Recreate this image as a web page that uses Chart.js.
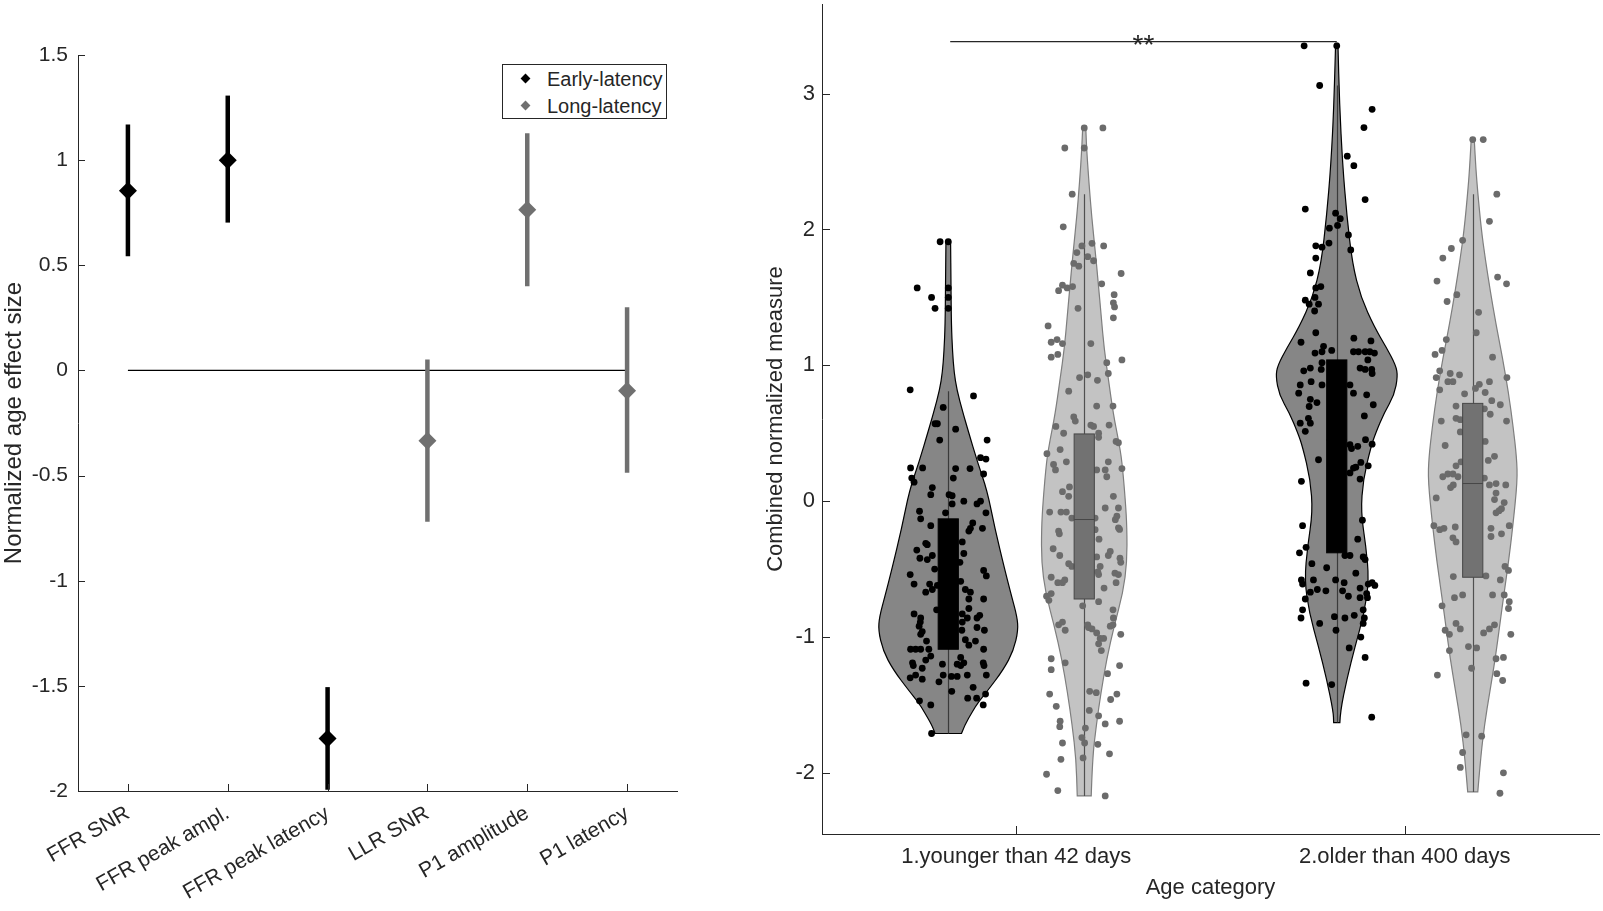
<!DOCTYPE html>
<html>
<head>
<meta charset="utf-8">
<script src="https://cdn.jsdelivr.net/npm/chart.js@4.4.1/dist/chart.umd.min.js"></script>
<style>
  body { margin: 0; background: #fff; width: 1603px; height: 911px; overflow: hidden; position: relative; }
  .panel { position: absolute; top: 0; height: 911px; }
  #legend { position: absolute; left: 502px; top: 64px; width: 165px; height: 55px; border: 1px solid #262626; background: #fff;
            font: 20px "Liberation Sans", Arial, sans-serif; color: #262626; box-sizing: border-box; }
  .legend-row { position: absolute; left: 0; width: 100%; height: 26px; line-height: 26px; white-space: nowrap; }
  .legend-mark { position: absolute; left: 19px; top: 9px; width: 7px; height: 7px; transform: rotate(45deg); }
  .legend-text { position: absolute; left: 44px; }
</style>
</head>
<body>
<div class="panel" style="left:0;width:760px"><canvas id="effectChart"></canvas></div>
<div id="legend"></div>
<div class="panel" style="left:760px;width:843px"><canvas id="violinChart"></canvas></div>
<script>
// ---- left panel: age effect per measure ----
const measures = ['FFR SNR', 'FFR peak ampl.', 'FFR peak latency', 'LLR SNR', 'P1 amplitude', 'P1 latency'];
const effectSize = [0.855, 1.0, -1.75, -0.334, 0.764, -0.097];
const ciLow = [0.543, 0.703, -1.994, -0.72, 0.40, -0.486];
const ciHigh = [1.17, 1.307, -1.506, 0.052, 1.128, 0.30];
const latencyOf = [0, 0, 0, 1, 1, 1];
const latencyNames = ['Early-latency', 'Long-latency'];
const yTicksLeft = [-2, -1.5, -1, -0.5, 0, 0.5, 1, 1.5];

// ---- right panel: violins ----
const ageGroups = ['1.younger than 42 days', '2.older than 400 days'];
const yTicksRight = [-2, -1, 0, 1, 2, 3];
const violinX = [0.825, 1.175, 1.825, 2.175];

// outlines as [value, half width]
const dark1Shape = [[-1.71, 0.034], [-1.65, 0.042], [-1.55, 0.062], [-1.48, 0.077], [-1.4, 0.1], [-1.24, 0.142], [-1.1, 0.168],
  [-0.95, 0.18], [-0.85, 0.177], [-0.7, 0.163], [-0.5, 0.145], [-0.2, 0.12], [0.08, 0.1], [0.28, 0.076], [0.53, 0.05],
  [0.65, 0.038], [0.82, 0.022], [0.95, 0.015], [1.1, 0.011], [1.3, 0.008], [1.6, 0.007], [1.91, 0.006]];
const light1Shape = [[-2.17, 0.018], [-1.9, 0.021], [-1.65, 0.031], [-1.41, 0.043], [-1.16, 0.058], [-0.92, 0.077], [-0.67, 0.1],
  [-0.45, 0.11], [-0.2, 0.11], [0.0, 0.106], [0.3, 0.097], [0.45, 0.088], [0.64, 0.075], [0.9, 0.062], [1.13, 0.051],
  [1.35, 0.044], [1.61, 0.036], [1.85, 0.028], [2.1, 0.019], [2.35, 0.012], [2.6, 0.006], [2.75, 0.004]];
const dark2Shape = [[-1.63, 0.008], [-1.55, 0.009], [-1.31, 0.026], [-1.07, 0.047], [-0.82, 0.071], [-0.58, 0.083], [-0.33, 0.075],
  [-0.08, 0.062], [0.16, 0.068], [0.4, 0.088], [0.5, 0.1], [0.65, 0.122], [0.78, 0.148], [0.92, 0.157], [1.0, 0.152],
  [1.13, 0.128], [1.28, 0.097], [1.5, 0.062], [1.75, 0.04], [2.1, 0.026], [2.48, 0.015], [2.93, 0.007], [3.37, 0.003]];
const light2Shape = [[-2.14, 0.013], [-1.9, 0.02], [-1.65, 0.03], [-1.4, 0.044], [-1.16, 0.058], [-0.9, 0.07], [-0.67, 0.081],
  [-0.45, 0.092], [-0.19, 0.103], [0.15, 0.115], [0.32, 0.113], [0.55, 0.104], [0.8, 0.092], [1.05, 0.077], [1.3, 0.06],
  [1.55, 0.045], [1.79, 0.032], [2.0, 0.022], [2.27, 0.013], [2.45, 0.008], [2.66, 0.004]];

const boxQ1 = [-1.09, -0.72, -0.38, -0.56];
const boxQ3 = [-0.13, 0.495, 1.04, 0.72];
const boxMedian = [-0.62, -0.135, 0.45, 0.13];
const whiskerLow = [-1.71, -2.17, -1.63, -2.14];
const whiskerHigh = [0.81, 2.26, 3.06, 2.26];

// individual subjects as [offset from violin centre, value]
const dark1Points = [[-0.021, 1.91], [0, 1.91], [-0.08, 1.57], [0, 1.57], [0, 1.5], [0, 1.42], [-0.043, 1.5], [-0.034, 1.42],
  [-0.098, 0.82], [0.065, 0.775], [-0.013, 0.69], [-0.034, 0.57], [-0.028, 0.57], [0.019, 0.53], [-0.022, 0.45], [0.1, 0.45],
  [0.083, 0.32], [0.097, 0.31], [-0.097, 0.245], [-0.066, 0.245], [0.019, 0.24], [0.056, 0.24], [0.091, 0.2], [-0.094, 0.17],
  [-0.088, 0.14], [0.013, 0.17], [-0.041, 0.1], [-0.045, 0.048], [0.002, 0.048], [0.01, 0.04], [0.083, 0.0], [0.04, 0.0],
  [0.074, -0.02], [0.01, -0.02], [-0.074, -0.074], [0.097, -0.086], [-0.071, -0.13], [-0.007, -0.086], [-0.045, -0.18],
  [0.063, -0.16], [0.088, -0.2], [0.053, -0.22], [0.057, -0.2], [-0.058, -0.31], [-0.054, -0.32], [0.036, -0.3], [-0.081, -0.36],
  [0.04, -0.385], [-0.041, -0.4], [-0.073, -0.42], [-0.054, -0.43], [0.091, -0.51], [0.098, -0.55], [-0.098, -0.54],
  [-0.088, -0.61], [-0.048, -0.61], [-0.028, -0.62], [-0.041, -0.65], [-0.058, -0.67], [0.044, -0.65], [0.057, -0.67],
  [0.053, -0.72], [0.032, -0.59], [0.091, -0.72], [0.053, -0.79], [-0.088, -0.83], [-0.071, -0.86], [-0.072, -0.89],
  [-0.075, -0.92], [-0.067, -0.96], [-0.071, -0.98], [0.036, -0.83], [0.049, -0.86], [0.074, -0.86], [0.081, -0.84],
  [0.036, -0.89], [0.074, -0.93], [0.093, -0.95], [-0.056, -1.03], [0.044, -1.02], [0.053, -1.06], [0.07, -1.03],
  [-0.097, -1.09], [-0.084, -1.09], [-0.071, -1.09], [-0.05, -1.09], [0.091, -1.09], [-0.045, -1.14], [-0.092, -1.19],
  [-0.09, -1.21], [-0.058, -1.17], [-0.067, -1.23], [-0.015, -1.2], [0.032, -1.15], [0.04, -1.19], [0.032, -1.21],
  [0.023, -1.2], [0.09, -1.19], [0.092, -1.21], [0.098, -1.28], [0.049, -1.28], [-0.098, -1.3], [-0.084, -1.28],
  [-0.067, -1.31], [-0.024, -1.33], [-0.013, -1.28], [0.008, -1.29], [0.023, -1.29], [0.064, -1.37], [0.009, -1.4],
  [0.05, -1.45], [0.073, -1.45], [0.096, -1.42], [0.09, -1.5], [-0.074, -1.47], [-0.045, -1.5], [-0.043, -1.71],
  [-0.035, -0.5], [0.03, -0.45], [-0.03, -0.8], [0.035, -0.95]];
const light1Points = [[0, 2.748], [0.048, 2.748], [-0.05, 2.6], [0, 2.6], [-0.031, 2.26], [-0.054, 2.02],
  [-0.006, 1.879], [0.02, 1.898], [0.05, 1.879], [-0.019, 1.83], [0.009, 1.8], [0.024, 1.77], [-0.027, 1.75], [-0.014, 1.73],
  [0.095, 1.676], [0.045, 1.6], [-0.066, 1.55], [-0.056, 1.59], [-0.044, 1.57], [-0.03, 1.58], [0.077, 1.52], [0.075, 1.46],
  [0.078, 1.43], [-0.016, 1.42], [0.075, 1.35], [-0.093, 1.29], [-0.085, 1.17], [-0.07, 1.19], [-0.056, 1.16], [0.017, 1.16],
  [-0.085, 1.06], [-0.068, 1.08], [0.058, 1.02], [0.097, 1.04], [0.062, 0.94], [-0.012, 0.91], [0.009, 0.93], [0.034, 0.89],
  [-0.04, 0.81], [0.032, 0.7], [0.074, 0.7], [-0.027, 0.62], [-0.023, 0.59], [0.017, 0.56], [0.024, 0.55], [-0.073, 0.55],
  [-0.053, 0.5], [0.064, 0.56], [0.082, 0.44], [0.088, 0.43], [-0.096, 0.35], [-0.062, 0.38], [0.037, 0.5], [0.037, 0.47],
  [-0.079, 0.27], [-0.074, 0.23], [-0.046, 0.29], [0.032, 0.23], [0.054, 0.23], [0.062, 0.29], [0.097, 0.24], [0.058, 0.18],
  [-0.056, 0.07], [-0.038, 0.105], [-0.04, 0.036], [0.075, 0.036], [-0.089, -0.08], [-0.06, -0.08], [-0.046, -0.08],
  [-0.032, -0.124], [0.028, -0.124], [0.054, -0.05], [0.088, -0.05], [0.08, -0.136], [0.084, -0.11], [0.088, -0.196],
  [0.091, -0.208], [-0.066, -0.22], [-0.064, -0.24], [0.028, -0.21], [0.038, -0.28], [-0.08, -0.35], [0.067, -0.37],
  [0.062, -0.4], [0.092, -0.42], [0.094, -0.45], [-0.063, -0.4], [-0.04, -0.46], [-0.032, -0.48], [0.032, -0.41],
  [0.041, -0.48], [0.037, -0.54], [0.035, -0.52], [0.079, -0.53], [0.088, -0.54], [0.082, -0.6], [0.051, -0.64],
  [-0.085, -0.56], [-0.068, -0.6], [-0.056, -0.6], [-0.05, -0.58], [-0.097, -0.7], [-0.091, -0.73], [-0.085, -0.68],
  [-0.004, -0.77], [0.037, -0.74], [0.074, -0.8], [0.075, -0.86], [0.067, -0.92], [0.074, -0.91], [0.094, -0.98],
  [-0.066, -0.91], [-0.056, -0.89], [-0.049, -0.95], [0.009, -0.91], [0.011, -0.93], [0.02, -0.94], [0.032, -0.97],
  [0.041, -1.01], [0.05, -1.01], [0.037, -1.05], [0.044, -1.1], [-0.085, -1.16], [-0.085, -1.24], [-0.049, -1.19],
  [0.091, -1.21], [0.06, -1.27], [-0.089, -1.42], [-0.072, -1.51], [0.014, -1.4], [0.031, -1.41], [0.084, -1.42],
  [0.068, -1.46], [0.013, -1.54], [0.037, -1.58], [-0.062, -1.62], [-0.063, -1.66], [0.054, -1.64], [0.091, -1.62],
  [0.003, -1.67], [-0.006, -1.74], [-0.056, -1.78], [0.001, -1.78], [0.035, -1.79], [0.065, -1.86], [-0.003, -1.89],
  [-0.06, -1.9], [-0.097, -2.01], [-0.068, -2.13], [0.054, -2.17]];
const dark2Points = [[-0.084, 3.352], [0, 3.352], [-0.044, 3.06], [0.091, 2.885], [0.07, 2.75], [0.027, 2.54], [0.044, 2.47],
  [0.073, 2.22], [-0.081, 2.15], [-0.003, 2.12], [0.009, 2.08], [0.002, 2.03], [-0.019, 2.01], [0.03, 1.96], [0.036, 1.85],
  [-0.054, 1.88], [-0.038, 1.87], [-0.02, 1.9], [-0.054, 1.79], [-0.068, 1.68], [-0.054, 1.57], [-0.041, 1.58], [-0.081, 1.48],
  [-0.071, 1.45], [-0.056, 1.5], [-0.047, 1.45], [-0.057, 1.4], [-0.054, 1.24], [-0.092, 1.17], [0.044, 1.2], [0.088, 1.18],
  [-0.056, 1.09], [-0.038, 1.1], [-0.034, 1.14], [-0.013, 1.11], [0.043, 1.1], [0.056, 1.1], [0.073, 1.1], [0.085, 1.1],
  [0.097, 1.09], [0.08, 1.04], [-0.085, 0.96], [-0.068, 0.98], [-0.04, 0.97], [-0.038, 1.02], [0.06, 0.98], [0.073, 0.97],
  [0.09, 0.97], [0.091, 0.94], [-0.094, 0.856], [-0.066, 0.88], [-0.038, 0.856], [0.034, 0.856], [0.043, 0.795],
  [-0.098, 0.795], [-0.068, 0.75], [-0.051, 0.726], [-0.071, 0.697], [0.077, 0.783], [0.094, 0.71], [-0.073, 0.61],
  [-0.094, 0.574], [-0.068, 0.574], [-0.081, 0.514], [0.071, 0.628], [0.074, 0.453], [0.091, 0.42], [0.034, 0.416],
  [0.054, 0.404], [0.038, 0.387], [-0.047, 0.305], [0.062, 0.285], [0.043, 0.244], [0.049, 0.25], [0.034, 0.208],
  [0.081, 0.26], [0.06, 0.163], [-0.091, 0.146], [0.066, -0.14], [-0.088, -0.18], [0.054, -0.28], [-0.079, -0.34],
  [-0.096, -0.38], [0.068, -0.41], [0.073, -0.43], [0.034, -0.4], [0.021, -0.4], [-0.064, -0.46], [-0.026, -0.49],
  [0.049, -0.53], [-0.091, -0.58], [-0.088, -0.61], [-0.06, -0.58], [-0.003, -0.58], [0.019, -0.6], [0.081, -0.61],
  [0.091, -0.6], [0.098, -0.62], [0.06, -0.64], [-0.068, -0.67], [-0.05, -0.65], [-0.028, -0.66], [0.015, -0.66],
  [0.077, -0.68], [0.079, -0.71], [-0.081, -0.72], [0.03, -0.7], [0.06, -0.71], [-0.088, -0.8], [-0.092, -0.86],
  [-0.006, -0.85], [0.021, -0.86], [0.045, -0.84], [0.068, -0.8], [0.071, -0.86], [-0.044, -0.9], [-0.002, -0.95],
  [0.068, -0.9], [0.062, -1.0], [0.032, -1.08], [0.073, -1.15], [-0.079, -1.34], [-0.013, -1.35], [0.09, -1.59]];
const light2Points = [[0, 2.662], [0.027, 2.662], [0.062, 2.26], [0.043, 2.06], [-0.026, 1.92], [-0.055, 1.86], [-0.077, 1.79],
  [-0.092, 1.62], [0.064, 1.65], [0.087, 1.6], [-0.041, 1.52], [-0.066, 1.47], [0.015, 1.39], [0.009, 1.24], [-0.068, 1.19],
  [-0.079, 1.11], [-0.097, 1.08], [0.051, 1.06], [-0.085, 0.96], [-0.094, 0.91], [-0.058, 0.94], [-0.034, 0.93], [0.088, 0.91],
  [-0.064, 0.88], [-0.051, 0.88], [-0.085, 0.82], [0.017, 0.86], [0.007, 0.83], [0.043, 0.88], [0.032, 0.8], [-0.021, 0.79],
  [0.049, 0.74], [0.071, 0.71], [-0.043, 0.7], [0.03, 0.68], [0.045, 0.64], [-0.081, 0.59], [-0.043, 0.61], [-0.032, 0.6],
  [0.087, 0.59], [-0.032, 0.51], [0.032, 0.44], [-0.071, 0.41], [0.056, 0.33], [0.04, 0.3], [-0.043, 0.26], [-0.03, 0.29],
  [-0.077, 0.18], [-0.064, 0.2], [-0.051, 0.2], [-0.038, 0.18], [0.03, 0.17], [0.043, 0.12], [0.06, 0.13], [0.085, 0.12],
  [-0.057, 0.1], [-0.05, 0.12], [-0.094, 0.024], [0.06, 0.06], [0.056, 0.012], [0.081, -0.01], [0.06, -0.086], [0.068, -0.07],
  [0.074, -0.055], [-0.1, -0.18], [-0.085, -0.21], [-0.074, -0.2], [-0.045, -0.19], [0.047, -0.2], [0.047, -0.26],
  [0.074, -0.24], [0.094, -0.18], [-0.051, -0.27], [-0.043, -0.3], [0.083, -0.48], [0.092, -0.51], [-0.05, -0.555],
  [0.034, -0.55], [0.071, -0.58], [-0.026, -0.69], [-0.047, -0.71], [0.051, -0.69], [0.081, -0.69], [0.094, -0.74],
  [-0.079, -0.77], [0.092, -0.79], [-0.043, -0.9], [-0.032, -0.94], [0.056, -0.91], [0.043, -0.94], [0.028, -0.97],
  [-0.071, -0.95], [-0.06, -0.98], [0.098, -0.98], [-0.011, -1.07], [0.01, -1.08], [-0.06, -1.1], [-0.003, -1.23],
  [0.06, -1.16], [0.079, -1.15], [-0.091, -1.28], [0.062, -1.27], [0.077, -1.32], [-0.017, -1.72], [0.023, -1.73],
  [-0.026, -1.85], [-0.032, -1.96], [0.079, -2.0], [0.07, -2.15]];

const violinShapes = [dark1Shape, light1Shape, dark2Shape, light2Shape];
const violinPoints = [dark1Points, light1Points, dark2Points, light2Points];

const sigFrom = 0.83;
const sigTo = 1.825;
const sigY = 3.383;
const sigLabel = '**';

// ---- styling ----
const axisColor = '#262626';
const fontFamily = '"Liberation Sans", Arial, Helvetica, sans-serif';
const latencyColors = ['#000000', '#707070'];
const darkStyle = { fill: '#868686', edge: '#000000', dot: '#000000', box: '#000000', boxEdge: '#000000', whisker: '#3a3a3a' };
const lightStyle = { fill: '#c3c3c3', edge: '#7e7e7e', dot: '#6b6b6b', box: '#727272', boxEdge: '#474747', whisker: '#505050' };
const violinStyle = [darkStyle, lightStyle, darkStyle, lightStyle];

Chart.defaults.font.family = fontFamily;
Chart.defaults.color = axisColor;

// MATLAB-style ticks pointing into the plot
const innerTicks = {
    id: 'innerTicks',
    afterDatasetsDraw(chart, args, opts) {
        const { ctx, chartArea: a, scales: { x, y } } = chart;
        ctx.save();
        ctx.strokeStyle = axisColor;
        ctx.lineWidth = 1;
        ctx.beginPath();
        x.ticks.forEach(t => {
            const px = Math.round(x.getPixelForValue(t.value)) + 0.5;
            ctx.moveTo(px, a.bottom);
            ctx.lineTo(px, a.bottom - opts.length);
        });
        y.ticks.forEach(t => {
            const py = Math.round(y.getPixelForValue(t.value)) + 0.5;
            ctx.moveTo(a.left, py);
            ctx.lineTo(a.left + opts.length, py);
        });
        ctx.stroke();
        ctx.restore();
    }
};

// legend for the left panel
const legendBox = document.getElementById('legend');
latencyNames.forEach((name, g) => {
    const row = document.createElement('div');
    row.className = 'legend-row';
    row.style.top = (1 + g * 27) + 'px';
    row.innerHTML = `<span class="legend-mark" style="background:${latencyColors[g]}"></span><span class="legend-text">${name}</span>`;
    legendBox.appendChild(row);
});

// ---- left chart ----
const errorBars = measures.map((m, i) => ({
    data: [{ x: i + 1, y: ciLow[i] }, { x: i + 1, y: ciHigh[i] }],
    showLine: true,
    borderColor: latencyColors[latencyOf[i]],
    borderWidth: 4.5,
    borderCapStyle: 'butt',
    pointRadius: 0,
    order: 1
}));
const diamonds = latencyNames.map((name, g) => ({
    label: name,
    data: measures.map((m, i) => ({ x: i + 1, y: effectSize[i], g: latencyOf[i] })).filter(p => p.g === g),
    pointStyle: 'rectRot',
    pointRadius: 9,
    backgroundColor: latencyColors[g],
    borderWidth: 0,
    showLine: false,
    order: 0
}));
const zeroLine = {
    data: [{ x: 1, y: 0 }, { x: measures.length, y: 0 }],
    showLine: true,
    borderColor: '#000000',
    borderWidth: 1.2,
    pointRadius: 0,
    order: 2
};

new Chart(document.getElementById('effectChart').getContext('2d'), {
    type: 'scatter',
    data: { datasets: [zeroLine, ...errorBars, ...diamonds] },
    plugins: [innerTicks],
    options: {
        responsive: true,
        maintainAspectRatio: false,
        animation: false,
        events: [],
        layout: { padding: { left: 0, top: 55, right: 83, bottom: 0 } },
        plugins: { legend: { display: false }, tooltip: { enabled: false }, innerTicks: { length: 7 } },
        scales: {
            x: {
                type: 'linear', min: 0.5, max: 6.5,
                afterBuildTicks: s => { s.ticks = measures.map((m, i) => ({ value: i + 1 })); },
                afterFit: s => { s.height = 120; },
                grid: { display: false, drawTicks: false },
                border: { display: true, color: axisColor, width: 1 },
                ticks: {
                    autoSkip: false, minRotation: 30, maxRotation: 30, padding: 10,
                    font: { size: 21 }, color: axisColor,
                    callback: v => measures[v - 1] ?? ''
                }
            },
            y: {
                min: -2, max: 1.5,
                afterBuildTicks: s => { s.ticks = yTicksLeft.map(v => ({ value: v })); },
                afterFit: s => { s.width = 78; },
                grid: { display: false, drawTicks: false },
                border: { display: true, color: axisColor, width: 1 },
                ticks: { padding: 10, font: { size: 21 }, color: axisColor, callback: v => String(v) },
                title: { display: true, text: 'Normalized age effect size', font: { size: 24 }, color: axisColor, padding: { top: 0, bottom: 0 } }
            }
        }
    }
});

// ---- right chart ----
function traceSide(ctx, pts, start) {
    if (start) ctx.moveTo(pts[0][0], pts[0][1]);
    else ctx.lineTo(pts[0][0], pts[0][1]);
    for (let i = 1; i < pts.length - 1; i++) {
        const mx = (pts[i][0] + pts[i + 1][0]) / 2;
        const my = (pts[i][1] + pts[i + 1][1]) / 2;
        ctx.quadraticCurveTo(pts[i][0], pts[i][1], mx, my);
    }
    const last = pts[pts.length - 1];
    ctx.lineTo(last[0], last[1]);
}

const violinLayer = {
    id: 'violinLayer',
    beforeDatasetsDraw(chart) {
        const { ctx, chartArea: a, scales: { x, y } } = chart;
        ctx.save();
        ctx.beginPath();
        ctx.rect(a.left, a.top, a.right - a.left, a.bottom - a.top);
        ctx.clip();
        violinShapes.forEach((shape, k) => {
            const st = violinStyle[k];
            const cx = violinX[k];
            const right = shape.map(([v, w]) => [x.getPixelForValue(cx + w), y.getPixelForValue(v)]);
            const left = shape.map(([v, w]) => [x.getPixelForValue(cx - w), y.getPixelForValue(v)]).reverse();
            ctx.beginPath();
            traceSide(ctx, right, true);
            traceSide(ctx, left, false);
            ctx.closePath();
            ctx.fillStyle = st.fill;
            ctx.fill();
            ctx.strokeStyle = st.edge;
            ctx.lineWidth = 1.2;
            ctx.stroke();
            // whisker
            const px = Math.round(x.getPixelForValue(cx)) + 0.5;
            ctx.beginPath();
            ctx.moveTo(px, y.getPixelForValue(whiskerLow[k]));
            ctx.lineTo(px, y.getPixelForValue(whiskerHigh[k]));
            ctx.strokeStyle = st.whisker;
            ctx.lineWidth = 1.2;
            ctx.stroke();
        });
        ctx.restore();
    },
    afterDatasetsDraw(chart) {
        const { ctx, scales: { x, y } } = chart;
        const half = 0.026;
        ctx.save();
        violinX.forEach((cx, k) => {
            const st = violinStyle[k];
            const l = x.getPixelForValue(cx - half);
            const r = x.getPixelForValue(cx + half);
            const t = y.getPixelForValue(boxQ3[k]);
            const b = y.getPixelForValue(boxQ1[k]);
            ctx.fillStyle = st.box;
            ctx.fillRect(l, t, r - l, b - t);
            ctx.strokeStyle = st.boxEdge;
            ctx.lineWidth = 1;
            ctx.strokeRect(l, t, r - l, b - t);
            const m = y.getPixelForValue(boxMedian[k]);
            ctx.beginPath();
            ctx.moveTo(l, m);
            ctx.lineTo(r, m);
            ctx.stroke();
        });
        // significance stars
        ctx.font = `28px ${fontFamily}`;
        ctx.textAlign = 'center';
        ctx.textBaseline = 'alphabetic';
        ctx.fillStyle = axisColor;
        ctx.fillText(sigLabel, x.getPixelForValue((sigFrom + sigTo) / 2), y.getPixelForValue(sigY) + 12);
        ctx.restore();
    }
};

const pointSets = violinPoints.map((pts, k) => ({
    data: pts.map(([dx, v]) => ({ x: violinX[k] + dx, y: v })),
    pointRadius: 3.4,
    pointBackgroundColor: violinStyle[k].dot,
    pointBorderWidth: 0,
    showLine: false,
    order: 1
}));
const sigLine = {
    data: [{ x: sigFrom, y: sigY }, { x: sigTo, y: sigY }],
    showLine: true,
    borderColor: axisColor,
    borderWidth: 1.2,
    pointRadius: 0,
    order: 0
};

new Chart(document.getElementById('violinChart').getContext('2d'), {
    type: 'scatter',
    data: { datasets: [sigLine, ...pointSets] },
    plugins: [violinLayer, innerTicks],
    options: {
        responsive: true,
        maintainAspectRatio: false,
        animation: false,
        events: [],
        layout: { padding: { left: 0, top: 3, right: 1, bottom: 0 } },
        plugins: { legend: { display: false }, tooltip: { enabled: false }, innerTicks: { length: 8 } },
        scales: {
            x: {
                type: 'linear', min: 0.5, max: 2.5,
                afterBuildTicks: s => { s.ticks = ageGroups.map((g, i) => ({ value: i + 1 })); },
                afterFit: s => { s.height = 77; s.paddingLeft = 0; s.paddingRight = 0; },
                grid: { display: false, drawTicks: false },
                border: { display: true, color: axisColor, width: 1 },
                ticks: {
                    autoSkip: false, minRotation: 0, maxRotation: 0, padding: 10,
                    font: { size: 22 }, color: axisColor,
                    callback: v => ageGroups[v - 1] ?? ''
                },
                title: { display: true, text: 'Age category', font: { size: 22 }, color: axisColor, padding: { top: 0, bottom: 10 } }
            },
            y: {
                min: -2.45, max: 3.66,
                afterBuildTicks: s => { s.ticks = yTicksRight.map(v => ({ value: v })); },
                afterFit: s => { s.width = 62; s.paddingTop = 0; s.paddingBottom = 0; },
                grid: { display: false, drawTicks: false },
                border: { display: true, color: axisColor, width: 1 },
                ticks: { padding: 7, font: { size: 22 }, color: axisColor, callback: v => String(v) },
                title: { display: true, text: 'Combined normalized measure', font: { size: 22 }, color: axisColor, padding: { top: 3, bottom: 0 } }
            }
        }
    }
});
</script>
</body>
</html>
